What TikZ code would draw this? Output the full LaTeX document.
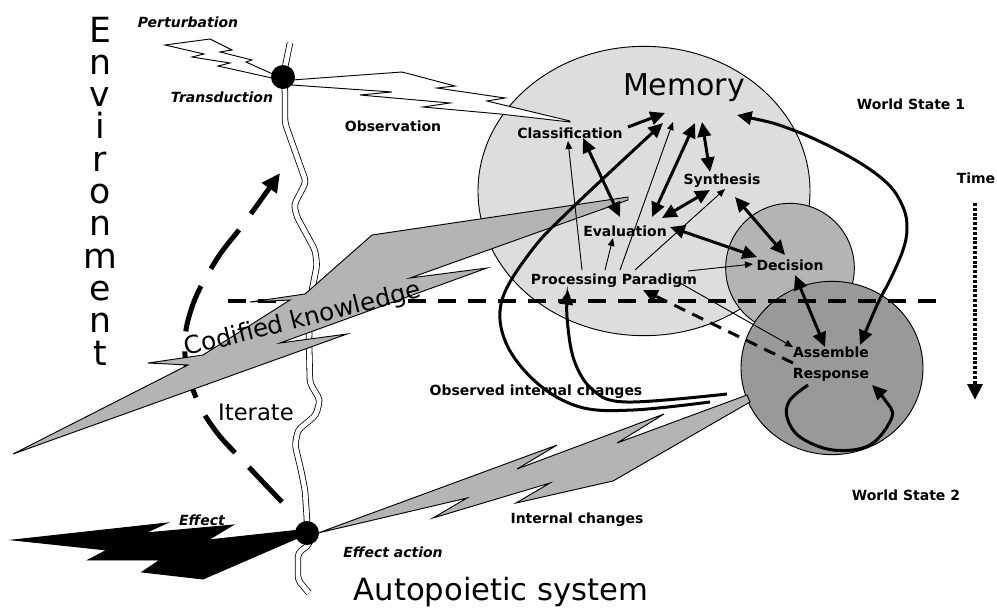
\documentclass[tikz,border=0pt]{standalone}
\usepackage{fontspec}
\setmainfont{DejaVu Sans}
\usetikzlibrary{arrows.meta,shapes.geometric,calc}
\definecolor{memgray}{RGB}{221,221,221}
\definecolor{decgray}{RGB}{180,180,180}
\definecolor{asmgray}{RGB}{153,153,153}
\definecolor{boltgray}{RGB}{180,180,180}
\begin{document}
\begin{tikzpicture}[x=0.75pt,y=-0.75pt,
  lbl/.style={font=\bfseries\fontsize{10.5}{12}\selectfont, inner sep=1pt},
  ilbl/.style={font=\bfseries\itshape\fontsize{10.5}{12}\selectfont, inner sep=1pt},
  envl/.style={font=\fontsize{26}{27}\selectfont, inner sep=0pt, text height=0.74em, text depth=0pt},
  state/.style={ellipse, draw, line width=0.7pt, inner sep=0pt},
  bolt/.style={draw=black, line width=0.7pt, line join=miter, fill=boltgray},
  whitebolt/.style={draw=black, line width=0.7pt, line join=miter, fill=white},
  membrane/.style={line width=0.6pt, double=white, double distance=3.6pt, rounded corners=3pt},
  ball/.style={circle, fill=black, minimum size=18pt, inner sep=0pt},
  thickarr/.style={line width=2.25pt, -{Triangle[length=11pt,width=10pt]}},
  thickdbl/.style={line width=2.25pt, {Triangle[length=11pt,width=10pt]}-{Triangle[length=11pt,width=10pt]}},
  thinarr/.style={line width=0.7pt, -{Triangle[length=6pt,width=5pt]}},
  divide/.style={line width=3.5pt, dash pattern=on 13.5pt off 9pt},
  iterarr/.style={line width=3.75pt, dash pattern=on 36pt off 15pt, -{Triangle[length=14pt,width=13pt]}},
  timearr/.style={line width=3pt, dash pattern=on 2.2pt off 1.4pt, -{Triangle[length=12pt,width=11pt]}},
]
\useasboundingbox (0,0) rectangle (997,612);

% states of the system
\node[state, fill=memgray, minimum width=249pt, minimum height=217pt] (memc) at (644,191) {};
\node[state, fill=decgray, minimum width=96.5pt, minimum height=97pt] (decc) at (790,268) {};
\node[state, fill=asmgray, minimum width=136.5pt, minimum height=130pt] (asmc) at (832,368) {};

% the membrane between system and environment
\draw[membrane] (290,43) -- (283,77) -- (285,90) -- (285,123) -- (306,182) -- (294,205)
  -- (297,217) -- (315,250) -- (317,265) -- (310,300) -- (309,340) -- (310,383)
  -- (320,400) -- (316,415) -- (298,430) -- (295,445) -- (301,470) -- (305,490)
  -- (307,520) -- (307,533) -- (310,544) -- (298,553) -- (298,580) -- (309,593);

% iterate loop
\coordinate (itA) at (282,502);
\coordinate (itB) at (280,173);
\draw[iterarr] plot[smooth, tension=0.7] coordinates {(itA) (245,463) (215,430) (195,395) (185,355) (191,310) (215,262) (245,222) (itB)};

% boundary between the two world states
\coordinate (hlL) at (228,301);
\coordinate (hlR) at (945,301);
\draw[divide] (hlL) -- (hlR);

% lightning bolts
\draw[whitebolt] (165,45) -- (210,39) -- (232,50) -- (220,52) -- (252,60) -- (246,62) -- (275,75)
  -- (272,78) -- (218,66) -- (230,63) -- (192,57) -- (204,54) -- cycle;
\draw[whitebolt] (292,80) -- (402,72) -- (455,86) -- (437,88) -- (505,98) -- (487,101) -- (570,121)
  -- (570,122) -- (500,114) -- (423,107) -- (450,103) -- (360,95) -- (392,92) -- (292,85) -- cycle;
\draw[bolt] (13,454) -- (188,365) -- (148,363) -- (203,355) -- (290,300) -- (250,302) -- (305,294)
  -- (372,235) -- (628,197) -- (628,200) -- (410,278) -- (487,268) -- (280,343) -- (347,334) -- cycle;
\draw[bolt] (318,533) -- (557,445) -- (517,469) -- (664,414) -- (617,443) -- (747,395)
  -- (750,402) -- (613,481) -- (516,503) -- (550,483) -- (433,518) -- (467,498) -- cycle;
\draw[line width=0.7pt, fill=black] (13,540) -- (167,523) -- (145,533) -- (233,525) -- (208,540) -- (300,530)
  -- (300,537) -- (203,579) -- (142,572) -- (160,560) -- (88,560) -- (107,550) -- cycle;

% transduction and effect points
\node[ball] (trans) at (283,77) {};
\node[ball] (eff) at (307,533) {};

% environment side
\foreach \ch [count=\i from 0] in {E,n,v,i,r,o,n,m,e,n,t}
  \node[envl, anchor=base] (env\i) at (100,{42+32.3*\i}) {\ch};

\node[ilbl] (pert) at (188,22) {Perturbation};
\node[ilbl] (transl) at (222,97) {Transduction};
\node[lbl] (obs) at (393,126) {Observation};
\node[lbl] (ws1) at (911,104) {World State 1};
\node[lbl] (time) at (976,178) {Time};
\node[lbl] (ws2) at (906,495) {World State 2};
\node[lbl] (oic) at (536,392) {Observed internal changes};
\node[lbl] (ic) at (577,520) {Internal changes};
\node[ilbl] (effl) at (202,520) {Effect};
\node[ilbl] (effa) at (393,552) {Effect action};
\node[font=\fontsize{23}{24}\selectfont, anchor=base] (auto) at (501,600) {Autopoietic system};
\node[font=\fontsize{17}{18}\selectfont] (iterl) at (256,412) {Iterate};
\node[font=\fontsize{18.5}{20}\selectfont, rotate=14, inner sep=0pt] (codk) at (303,320) {Codified knowledge};

% processes inside the system
\node[font=\fontsize{22.5}{24}\selectfont, inner sep=1pt] (mem) at (684,88) {Memory};
\node[lbl] (cls) at (570,133) {Classification};
\node[lbl] (syn) at (722,181) {Synthesis};
\node[lbl] (eval) at (625,231) {Evaluation};
\node[lbl] (dec) at (790,265) {Decision};
\node[lbl] (pp) at (614,281) {Processing Paradigm};
\node[lbl, align=center, font=\bfseries\fontsize{10.5}{15.5}\selectfont] (asm) at (831,364) {Assemble\\Response};

% thin influences of the processing paradigm
\draw[thinarr] ($(pp)+(6,-11)$) -- ($(mem)+(-11,34)$);
\draw[thinarr] ($(pp)+(-32,-11)$) -- ($(cls)+(-2,8)$);
\draw[thinarr] ($(pp)+(-9,-11)$) -- ($(eval)+(-12,7)$);
\draw[thinarr] ($(pp)+(21,-11)$) -- ($(syn)+(3,8)$);
\draw[thinarr] ($(pp)+(74,-10)$) -- ($(dec)+(-37,-1)$);
\draw[thinarr] ($(pp)+(66,2)$) -- ($(asm)+(-38,-17)$);

% thick exchanges
\draw[thickarr] ($(cls)+(58,-6)$) -- ($(mem)+(-19,25)$);
\draw[thickdbl] ($(cls)+(13,5)$) -- ($(eval)+(-5,-14)$);
\draw[thickdbl] ($(mem)+(11,35)$) -- ($(eval)+(27,-14)$);
\draw[thickdbl] ($(mem)+(18,34)$) -- ($(syn)+(-12,-9)$);
\draw[thickdbl] ($(syn)+(-12,9)$) -- ($(eval)+(37,-13)$);
\draw[thickdbl] ($(eval)+(45,-4)$) -- ($(dec)+(-33,-8)$);
\draw[thickdbl] ($(syn)+(13,16)$) -- ($(dec)+(-5,-10)$);
\draw[thickdbl] ($(dec)+(5,10)$) -- ($(asm)+(-6,-17)$);

\coordinate (memR) at ($(mem)+(53,27)$);
\coordinate (asmR) at ($(asm)+(29,-19)$);
\draw[thickdbl] plot[smooth, tension=0.6] coordinates {(memR) (793,130) (850,157) (887,183) (903,207) (907,228) (903,250) (890,280) (878,303) (asmR)};

% observed internal changes
\coordinate (oicA) at (710,402);
\coordinate (oicB) at (727,394);
\coordinate (memA) at ($(mem)+(-21,35)$);
\coordinate (ppB) at ($(pp)+(-46,9)$);
\draw[thickarr] plot[smooth, tension=0.6] coordinates {(oicA) (633,410) (580,407) (537,383) (506,343) (502,300) (532,250) (573,207) (memA)};
\draw[thickarr] plot[smooth, tension=0.6] coordinates {(oicB) (627,402) (593,390) (574,360) (567,317) (ppB)};

% response feeding back into the paradigm
\draw[thickarr, dash pattern=on 9pt off 6pt] ($(asm)+(-38,-1)$) -- ($(pp)+(29,9)$);

% assembling loop
\coordinate (loopA) at ($(asm)+(-23,21)$);
\coordinate (loopB) at ($(asm)+(41,21)$);
\draw[thickarr] plot[smooth, tension=0.6] coordinates {(loopA) (790,400) (787,417) (800,437) (833,450) (870,445) (892,417) (885,400) (loopB)};

% time axis
\coordinate (timeTop) at (975,203);
\coordinate (timeBot) at (975,400);
\draw[timearr] (timeTop) -- (timeBot);
\end{tikzpicture}
\end{document}
